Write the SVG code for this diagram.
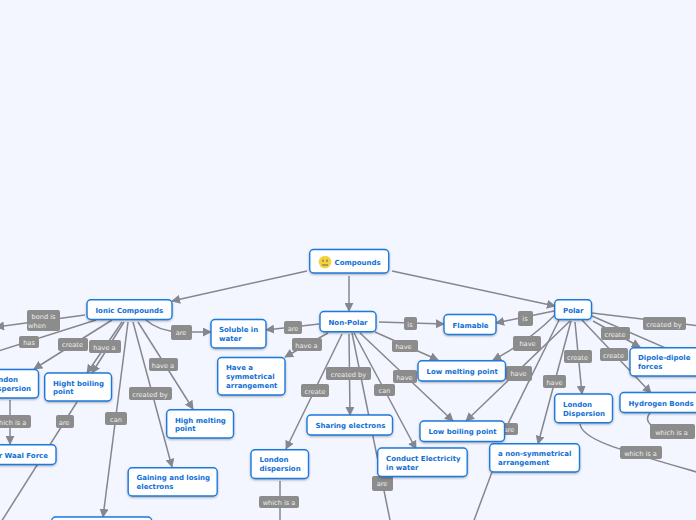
<svg xmlns="http://www.w3.org/2000/svg" width="696" height="520" viewBox="0 0 696 520">
<style>
.n rect{fill:#fff;stroke:#1b7ae0;stroke-width:1.4;filter:drop-shadow(0 1px 1px rgba(0,0,0,.3))}
.n text{font:bold 7px "DejaVu Sans",sans-serif;fill:#0f6fd6}
.c path{fill:none;stroke:#85878f;stroke-width:1.5}
.l rect{fill:#8c8c8c}
.l text{font:6.6px "DejaVu Sans",sans-serif;fill:#eee;text-anchor:middle}
</style>
<defs>
<marker id="a" viewBox="0 0 10 10" refX="9" refY="5" markerWidth="9" markerHeight="9" markerUnits="userSpaceOnUse" orient="auto"><path d="M0 0L10 5L0 10z" fill="#85878f"/></marker>
</defs>
<rect width="696" height="520" fill="#f3f6ff"/>
<g class="c">
<g marker-end="url(#a)">
<path d="M307 271L172 301"/>
<path d="M392 271L555 306"/>
<path d="M349 276V311"/>
<path d="M146 320Q158 331 180 332H211"/>
<path d="M319 324L266 330"/>
<path d="M328 333L285 357"/>
<path d="M342 334L286 449"/>
<path d="M349 334L350 415"/>
<path d="M354 333L416 449"/>
<path d="M360 333L453 421"/>
<path d="M375 332L438 360"/>
<path d="M379 322L444 324"/>
<path d="M554 311L496 323"/>
<path d="M555 315Q528 342 493 360"/>
<path d="M570 321L466 421"/>
<path d="M571 321L538 444"/>
<path d="M575 322L582 394"/>
<path d="M593 321L640 347"/>
<path d="M582 320L651 393"/>
<path d="M85 315L-4 327"/>
<path d="M112 320L34 369"/>
<path d="M122 322L87 373"/>
<path d="M124 322L92 373"/>
<path d="M138 322L193 409"/>
<path d="M133 322L172 467"/>
<path d="M128 322L103 517"/>
<path d="M10 400V444"/>
</g>
<path d="M96 320L-5 352"/>
<path d="M77 402L-4 530"/>
<path d="M352 333L392 530"/>
<path d="M280 481V520"/>
<path d="M559 320L500 440"/>
<path d="M492 472L473 523"/>
<path d="M580 424C582 440 620 450 700 473"/>
<path d="M592 313L700 326"/>
<path d="M592 316L700 363"/>
<path d="M650 413C642 422 655 430 665 430"/>
</g>
<g class="l">
<g><rect x="27" y="310" width="33" height="21" rx="2"/><text x="43.500" y="319">bond is</text><text x="37" y="328">when</text></g>
<g><rect x="19" y="336" width="20" height="12" rx="2"/><text x="29" y="344.500">has</text></g>
<g><rect x="58" y="338" width="30" height="13" rx="2"/><text x="72.500" y="347">create</text></g>
<g><rect x="89" y="340" width="32" height="13" rx="2"/><text x="104.500" y="349.500">have a</text></g>
<g><rect x="171" y="325" width="21" height="15" rx="2"/><text x="181" y="335">are</text></g>
<g><rect x="149" y="358" width="29" height="13" rx="2"/><text x="163" y="367.500">have a</text></g>
<g><rect x="129" y="387" width="43" height="13" rx="2"/><text x="150" y="396.500">created by</text></g>
<g><rect x="105" y="412" width="22" height="13" rx="2"/><text x="116" y="421.500">can</text></g>
<g><rect x="56" y="415" width="18" height="13" rx="2"/><text x="64" y="424.500">are</text></g>
<g><rect x="-10" y="415" width="41" height="13" rx="2"/><text x="10" y="424.500">which is a</text></g>
<g><rect x="284" y="321" width="18" height="13" rx="2"/><text x="293" y="330.500">are</text></g>
<g><rect x="292" y="338" width="30" height="13" rx="2"/><text x="306.500" y="347.500">have a</text></g>
<g><rect x="326" y="367" width="45" height="13" rx="2"/><text x="348.500" y="376.500">created by</text></g>
<g><rect x="301" y="384" width="28" height="13" rx="2"/><text x="315" y="393.500">create</text></g>
<g><rect x="374" y="384" width="21" height="12" rx="2"/><text x="384.500" y="392.500">can</text></g>
<g><rect x="392" y="340" width="26" height="12" rx="2"/><text x="403.500" y="348.500">have</text></g>
<g><rect x="393" y="370" width="24" height="13" rx="2"/><text x="404.500" y="379.500">have</text></g>
<g><rect x="404" y="317" width="13" height="13" rx="2"/><text x="410" y="326.500">is</text></g>
<g><rect x="372" y="476" width="21" height="15" rx="2"/><text x="382" y="486">are</text></g>
<g><rect x="259" y="496" width="40" height="12" rx="2"/><text x="279" y="504.500">which is a</text></g>
<g><rect x="518" y="311" width="15" height="15" rx="2"/><text x="525" y="321">is</text></g>
<g><rect x="513" y="336" width="28" height="15" rx="2"/><text x="527.500" y="346">have</text></g>
<g><rect x="506" y="366" width="26" height="15" rx="2"/><text x="518.500" y="376">have</text></g>
<g><rect x="543" y="375" width="23" height="13" rx="2"/><text x="554.500" y="384.500">have</text></g>
<g><rect x="564" y="350" width="28" height="13" rx="2"/><text x="577.500" y="359.500">create</text></g>
<g><rect x="601" y="327" width="29" height="13" rx="2"/><text x="615" y="336.500">create</text></g>
<g><rect x="600" y="348" width="28" height="13" rx="2"/><text x="613.500" y="357.500">create</text></g>
<g><rect x="643" y="317" width="43" height="13" rx="2"/><text x="664" y="326.500">created by</text></g>
<g><rect x="650" y="424" width="45" height="15" rx="2"/><text x="671.500" y="434.500">which is a</text></g>
<g><rect x="620" y="446" width="42" height="13" rx="2"/><text x="640.500" y="455.500">which is a</text></g>
<g><rect x="497" y="423" width="21" height="12" rx="2"/><text x="509" y="431.500">are</text></g>
</g>
<g class="n" id="compounds"><rect x="309.700" y="249.500" width="79" height="23.500" rx="4"/><circle cx="325" cy="262" r="6.300" fill="#f5d33c"/><path d="M323 259.500v2.500M327 259.500v2.500M322 265h6" stroke="#665" fill="none"/><text x="334.500" y="264.500">Compounds</text></g>
<g class="n" id="ionic"><rect x="87" y="299.700" width="85" height="19.800" rx="4"/><text x="95.500" y="312.500">Ionic Compounds</text></g>
<g class="n" id="nonpolar"><rect x="320" y="311.500" width="56" height="20.300" rx="4"/><text x="328.500" y="324.500">Non-Polar</text></g>
<g class="n" id="polar"><rect x="554.700" y="299.700" width="36.800" height="19.800" rx="4"/><text x="563" y="312.500">Polar</text></g>
<g class="n" id="soluble"><rect x="211" y="319.500" width="55" height="28.500" rx="4"/><text x="219" y="332">Soluble in</text><text x="219" y="341">water</text></g>
<g class="n" id="flamable"><rect x="444" y="314.500" width="52" height="20" rx="4"/><text x="452.500" y="327.500">Flamable</text></g>
<g class="n" id="sym"><rect x="217.700" y="357.500" width="67.300" height="37.500" rx="4"/><text x="226" y="370">Have a</text><text x="226" y="379">symmetrical</text><text x="226" y="387.500">arrangement</text></g>
<g class="n" id="lowmelt"><rect x="418" y="360.700" width="87.500" height="20.300" rx="4"/><text x="426.500" y="373.500">Low melting point</text></g>
<g class="n" id="lowboil"><rect x="420" y="421" width="84.500" height="20.500" rx="4"/><text x="428.500" y="434">Low boiling point</text></g>
<g class="n" id="sharing"><rect x="307" y="415" width="85.500" height="20" rx="4"/><text x="315.500" y="428">Sharing electrons</text></g>
<g class="n" id="londonnp"><rect x="251" y="449.700" width="57.500" height="28.800" rx="4"/><text x="259.500" y="462">London</text><text x="259.500" y="471">dispersion</text></g>
<g class="n" id="conduct"><rect x="377.700" y="448" width="89.500" height="28.500" rx="4"/><text x="386" y="461">Conduct Electricity</text><text x="386" y="469.500">in water</text></g>
<g class="n" id="nonsym"><rect x="489.700" y="443.700" width="89.800" height="28.300" rx="4"/><text x="498" y="456">a non-symmetrical</text><text x="498" y="465">arrangement</text></g>
<g class="n" id="londonp"><rect x="554.700" y="394" width="57.800" height="28.800" rx="4"/><text x="563" y="407">London</text><text x="563" y="415.500">Dispersion</text></g>
<g class="n" id="dipole"><rect x="630" y="347.700" width="72" height="28.300" rx="4"/><text x="638" y="360">Dipole-dipole</text><text x="638" y="369">forces</text></g>
<g class="n" id="hydrogen"><rect x="620" y="392.500" width="80" height="20" rx="4"/><text x="628.500" y="405.500">Hydrogen Bonds</text></g>
<g class="n" id="hightb"><rect x="44.700" y="373" width="66.800" height="28" rx="4"/><text x="53" y="386">Hight boiling</text><text x="53" y="394">point</text></g>
<g class="n" id="highm"><rect x="166.700" y="409.700" width="66.800" height="28.300" rx="4"/><text x="175" y="422.500">High melting</text><text x="175" y="431">point</text></g>
<g class="n" id="gaining"><rect x="128.200" y="467.700" width="89" height="28.300" rx="4"/><text x="136.500" y="480">Gaining and losing</text><text x="136.500" y="489">electrons</text></g>
<g class="n" id="bottom"><rect x="51.700" y="517" width="100" height="30" rx="4"/></g>
<g class="n" id="londonl"><rect x="-20" y="369.500" width="58.500" height="28.500" rx="4"/><text x="-11" y="382">London</text><text x="-11" y="391">Dispersion</text></g>
<g class="n" id="waal"><rect x="-40" y="444.700" width="96" height="19.800" rx="4"/><text x="48" y="457.500" text-anchor="end">Van der Waal Force</text></g>
</svg>
